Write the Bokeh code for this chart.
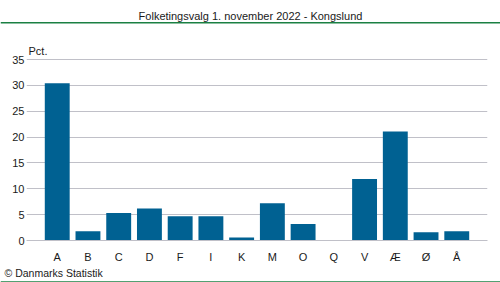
from bokeh.plotting import figure
from bokeh.layouts import column
from bokeh.models import Range1d, FixedTicker
from bokeh.core.properties import value
from bokeh.embed import file_html
from bokeh.resources import INLINE

categories = ["A", "B", "C", "D", "F", "I", "K", "M", "O", "Q", "V", "Æ", "Ø", "Å"]
values = [30.4, 1.8, 5.3, 6.2, 4.7, 4.7, 0.6, 7.2, 3.2, 0.0, 11.9, 21.1, 1.6, 1.8]
y_ticks = [0, 5, 10, 15, 20, 25, 30, 35]
title_text = "Folketingsvalg 1. november 2022 - Kongslund"
unit_text = "Pct."
source_text = "© Danmarks Statistik"

FONT = "Liberation Sans"
TXT = "#1a1a1a"
BAR = "#006192"
GRID = "#c0c0c8"
GREEN = "#1b8043"
W = 500


def strip(height):
    f = figure(width=W, height=height, output_backend="svg", toolbar_location=None,
               x_range=Range1d(0, W), y_range=Range1d(height, 0),
               x_axis_location=None, y_axis_location=None, min_border=0,
               frame_align=False)
    f.grid.visible = False
    f.outline_line_color = None
    return f


# ---- top strip: title + green rule
top = strip(24)
top.text(x=[W / 2], y=[15.5], text=[title_text], text_align="center",
         text_baseline="middle", text_font=value(FONT), text_font_size=value("11px"),
         text_color=TXT)
top.quad(left=[0], right=[W], top=[21.6], bottom=[22.9], fill_color=GREEN, line_color=None)

# ---- main chart
xs = list(range(1, len(categories) + 1))
p = figure(width=W, height=241, output_backend="svg", toolbar_location=None,
           x_range=Range1d(0, 15), y_range=Range1d(0, 199 * 35 / 181),
           min_border_left=26, min_border_right=13, min_border_top=17, min_border_bottom=25,
           frame_align=False)
p.outline_line_color = None

p.vbar(x=xs, top=values, width=0.81, color=BAR, line_color=None)

p.xgrid.visible = False
p.ygrid.ticker = FixedTicker(ticks=y_ticks)
p.ygrid.grid_line_color = GRID

p.yaxis.ticker = FixedTicker(ticks=y_ticks)
p.yaxis.axis_line_color = None
p.yaxis.major_tick_line_color = None
p.yaxis.minor_tick_line_color = None
p.yaxis.major_tick_out = 0
p.yaxis.major_tick_in = 0
p.yaxis.major_label_standoff = 2
p.yaxis.major_label_text_font = FONT
p.yaxis.major_label_text_font_size = "11px"
p.yaxis.major_label_text_color = TXT

p.xaxis.ticker = FixedTicker(ticks=xs)
p.xaxis.major_label_overrides = {x: c for x, c in zip(xs, categories)}
p.xaxis.axis_line_color = GRID
p.xaxis.major_tick_line_color = None
p.xaxis.minor_tick_line_color = None
p.xaxis.major_tick_out = 0
p.xaxis.major_tick_in = 0
p.xaxis.major_label_standoff = 10
p.xaxis.major_label_text_font = FONT
p.xaxis.major_label_text_font_size = "11px"
p.xaxis.major_label_text_color = TXT

# "Pct." unit label, placed inside the frame above the 35 gridline
p.text(x=[2 / (460.7 / 15)], y=[(240 - 50) / (181 / 35)], text=[unit_text],
       text_align="left", text_baseline="middle", text_font=value(FONT),
       text_font_size=value("11px"), text_color=TXT)

# ---- bottom strip: source + green rule
bot = strip(17)
bot.text(x=[4], y=[7.5], text=[source_text], text_align="left", text_baseline="alphabetic",
         text_font=value(FONT), text_font_size=value("10.5px"), text_color=TXT)
bot.quad(left=[0], right=[W], top=[15.8], bottom=[17], fill_color=GREEN, line_color=None)

layout = column(top, p, bot, spacing=0)
open("out.html", "w").write(file_html(layout, INLINE))
